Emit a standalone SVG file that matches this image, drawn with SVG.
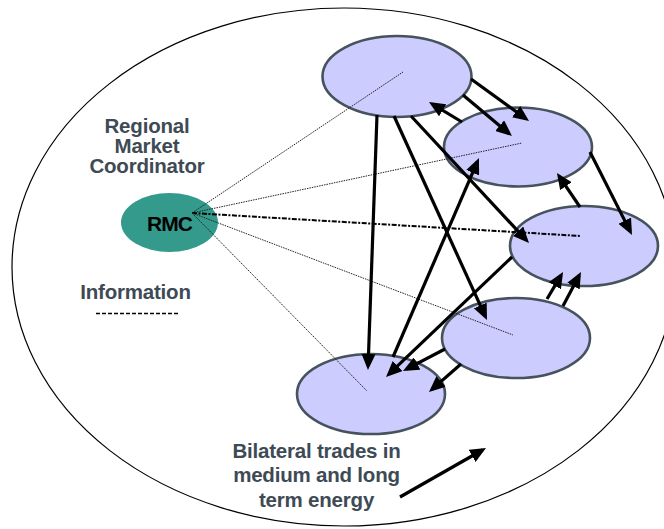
<svg xmlns="http://www.w3.org/2000/svg" width="664" height="529" viewBox="0 0 664 529">
  <style>
    .region { fill: #ffffff; stroke: #000000; stroke-width: 1.2; }
    .party { fill: #ccccff; stroke: #46525c; stroke-width: 2.6; }
    .rmc { fill: #339a8c; }
    .label { font-family: "Liberation Sans", Arial, sans-serif; font-weight: bold; font-size: 20.5px; fill: #3e4a54; text-anchor: middle; letter-spacing: -0.2px; }
    .rmc-text { font-family: "Liberation Sans", Arial, sans-serif; font-weight: bold; font-size: 21px; fill: #000000; text-anchor: middle; letter-spacing: -1px; }
    .info { fill: none; stroke: #222222; stroke-width: 1; stroke-dasharray: 1.5 1; }
    .info-main { fill: none; stroke: #000000; stroke-width: 2; stroke-dasharray: 5 1.5 2 1.5; }
    .trade { fill: none; stroke: #000000; stroke-width: 3.2; marker-end: url(#head); }
    .legend-dash { stroke: #000000; stroke-width: 1.6; stroke-dasharray: 4 2; }
  </style>
  <defs>
    <marker id="head" markerUnits="userSpaceOnUse" markerWidth="16" markerHeight="14" viewBox="0 0 16 14" refX="12" refY="7" orient="auto">
      <path d="M0,0 L16,7 L0,14 z" fill="#000000"/>
    </marker>
  </defs>

  <rect width="664" height="529" fill="#ffffff"/>

  <!-- regional market boundary -->
  <ellipse class="region" cx="344" cy="267" rx="332" ry="259"/>

  <!-- market participants -->
  <g id="node-a"><ellipse class="party" cx="397" cy="76.5" rx="74.5" ry="40.5"/></g>
  <g id="node-b"><ellipse class="party" cx="518" cy="147" rx="74" ry="39.5"/></g>
  <g id="node-c"><ellipse class="party" cx="584" cy="246" rx="74" ry="40"/></g>
  <g id="node-d"><ellipse class="party" cx="516" cy="338" rx="74" ry="40"/></g>
  <g id="node-e"><ellipse class="party" cx="371" cy="394" rx="74" ry="40"/></g>

  <!-- coordinator -->
  <g id="node-rmc">
    <ellipse class="rmc" cx="169.5" cy="222.5" rx="48.5" ry="29.5"/>
    <text class="rmc-text" x="169.5" y="230.5">RMC</text>
  </g>

  <g id="connectors">
    <!-- information links from the coordinator -->
    <line class="info" x1="192" y1="213" x2="403" y2="72"/>
    <line class="info" x1="192" y1="213" x2="522" y2="143"/>
    <line class="info-main" x1="192" y1="213" x2="581" y2="236"/>
    <line class="info" x1="192" y1="213" x2="513" y2="335"/>
    <line class="info" x1="192" y1="213" x2="367" y2="391"/>

    <!-- bilateral trades -->
    <line class="trade" x1="471" y1="79" x2="525.8" y2="118.7"/>
    <line class="trade" x1="463" y1="95" x2="508.9" y2="133.4"/>
    <line class="trade" x1="462" y1="122" x2="432.4" y2="104.1"/>
    <line class="trade" x1="590" y1="152" x2="630.2" y2="231.4"/>
    <line class="trade" x1="580" y1="207" x2="559.2" y2="176.3"/>
    <line class="trade" x1="377" y1="115" x2="368.1" y2="366"/>
    <line class="trade" x1="394" y1="116" x2="485.3" y2="316.4"/>
    <line class="trade" x1="411" y1="116" x2="526.3" y2="240.1"/>
    <line class="trade" x1="393" y1="357" x2="477.4" y2="161.7"/>
    <line class="trade" x1="512" y1="257" x2="388.9" y2="374.2"/>
    <line class="trade" x1="445" y1="349" x2="406.5" y2="369.1"/>
    <line class="trade" x1="461" y1="364" x2="432" y2="389.4"/>
    <line class="trade" x1="547" y1="299" x2="561" y2="275.4"/>
    <line class="trade" x1="563" y1="306" x2="579.1" y2="275.5"/>

    <!-- legend arrow -->
    <line class="trade" x1="400" y1="497" x2="482.5" y2="450"/>
  </g>

  <!-- captions -->
  <g id="caption-rmc">
    <text class="label" x="147" y="133">Regional</text>
    <text class="label" x="147" y="153">Market</text>
    <text class="label" x="147" y="173">Coordinator</text>
  </g>
  <g id="caption-info">
    <text class="label" x="135.5" y="299">Information</text>
    <line class="legend-dash" x1="96" y1="313.5" x2="180" y2="313.5"/>
  </g>
  <g id="caption-trades">
    <text class="label" x="316.5" y="457.5">Bilateral trades in</text>
    <text class="label" x="316.5" y="482">medium and long</text>
    <text class="label" x="316.5" y="506.5">term energy</text>
  </g>
</svg>
